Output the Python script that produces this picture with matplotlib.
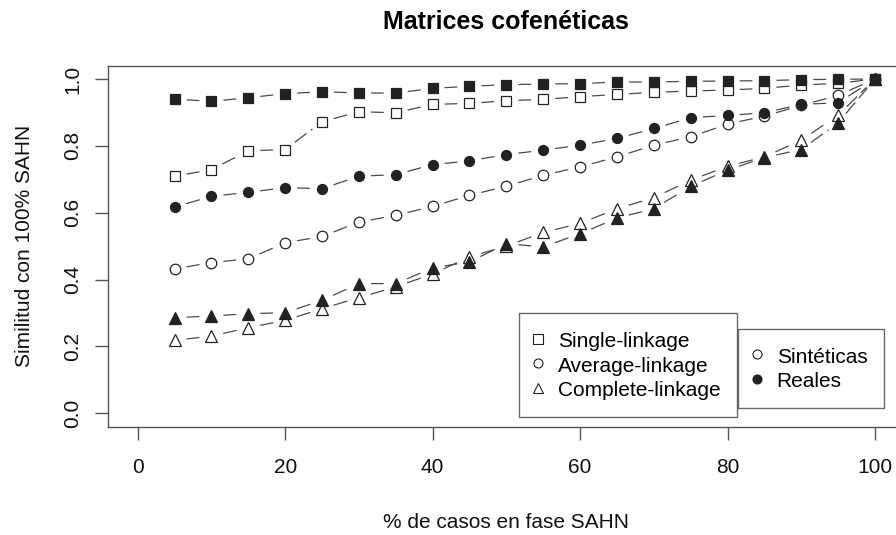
import matplotlib
matplotlib.use("Agg")
import matplotlib.pyplot as plt
from matplotlib.lines import Line2D

plt.rcParams['font.family'] = ['Liberation Sans', 'DejaVu Sans']

pct = [5, 10, 15, 20, 25, 30, 35, 40, 45, 50, 55, 60, 65, 70, 75, 80, 85, 90, 95, 100]

single_sint = [0.709, 0.729, 0.785, 0.789, 0.872, 0.902, 0.899, 0.924, 0.927, 0.935,
               0.939, 0.947, 0.954, 0.960, 0.964, 0.967, 0.972, 0.982, 0.987, 1.0]
single_real = [0.940, 0.933, 0.944, 0.956, 0.962, 0.958, 0.958, 0.972, 0.978, 0.983,
               0.985, 0.986, 0.991, 0.991, 0.993, 0.994, 0.995, 0.998, 0.999, 1.0]
average_sint = [0.432, 0.451, 0.462, 0.510, 0.529, 0.572, 0.592, 0.619, 0.652, 0.679,
                0.712, 0.737, 0.767, 0.802, 0.827, 0.865, 0.889, 0.921, 0.951, 1.0]
average_real = [0.617, 0.649, 0.661, 0.675, 0.672, 0.709, 0.714, 0.744, 0.755, 0.774,
                0.787, 0.802, 0.822, 0.852, 0.884, 0.891, 0.899, 0.924, 0.929, 1.0]
complete_sint = [0.218, 0.231, 0.256, 0.278, 0.313, 0.346, 0.378, 0.417, 0.468, 0.500,
                 0.541, 0.568, 0.612, 0.645, 0.697, 0.739, 0.767, 0.817, 0.892, 1.0]
complete_real = [0.286, 0.291, 0.298, 0.301, 0.338, 0.388, 0.388, 0.435, 0.453, 0.507,
                 0.498, 0.537, 0.584, 0.612, 0.679, 0.727, 0.765, 0.789, 0.869, 1.0]

title = "Matrices cofenéticas"
xlabel = "% de casos en fase SAHN"
ylabel = "Similitud con 100% SAHN"
legend_method = ["Single-linkage", "Average-linkage", "Complete-linkage"]
legend_data = ["Sintéticas", "Reales"]

fig = plt.figure(figsize=(8.96, 5.35), dpi=100)
ax = fig.add_axes([108.2 / 896, (535 - 426.7) / 535, 796.3 / 896, 361.1 / 535])
ax.set_xlim(-4, 104)
ax.set_ylim(-0.04, 1.04)

LINE_C = '#4a4a4a'
EDGE_C = '#222222'


def draw_series(y, marker, filled, ms):
    for i in range(len(pct) - 1):
        ax.annotate("", xy=(pct[i + 1], y[i + 1]), xytext=(pct[i], y[i]),
                    arrowprops=dict(arrowstyle='-', shrinkA=9, shrinkB=9,
                                    color=LINE_C, lw=0.9,
                                    linestyle=(0, (11, 5))),
                    zorder=2)
    ax.plot(pct, y, linestyle='none', marker=marker, ms=ms,
            mfc=(EDGE_C if filled else 'none'), mec=EDGE_C,
            mew=0.9, zorder=3)


draw_series(single_sint, 's', False, 7.2)
draw_series(single_real, 's', True, 7.0)
draw_series(average_sint, 'o', False, 7.6)
draw_series(average_real, 'o', True, 7.2)
draw_series(complete_sint, '^', False, 8.6)
draw_series(complete_real, '^', True, 8.6)

for s in ax.spines.values():
    s.set_color('#555555')
    s.set_linewidth(1.0)

ax.set_xticks([0, 20, 40, 60, 80, 100])
ax.set_yticks([0.0, 0.2, 0.4, 0.6, 0.8, 1.0])
ax.set_yticklabels(["0.0", "0.2", "0.4", "0.6", "0.8", "1.0"], rotation=90, va='center')
ax.tick_params(axis='both', direction='out', length=9.5, width=1.0, color='#555555',
               labelsize=15, labelcolor='#111111')
ax.tick_params(axis='x', pad=13.3)
ax.tick_params(axis='y', pad=9)

ax.set_title(title, fontsize=18, fontweight='bold', pad=26)
ax.set_xlabel(xlabel, fontsize=15, labelpad=26, color='#111111')
ax.set_ylabel(ylabel, fontsize=15, labelpad=21, color='#111111')

h1 = [Line2D([], [], linestyle='none', marker='s', ms=6.5, mfc='none', mec=EDGE_C, mew=0.8),
      Line2D([], [], linestyle='none', marker='o', ms=6.5, mfc='none', mec=EDGE_C, mew=0.8),
      Line2D([], [], linestyle='none', marker='^', ms=7, mfc='none', mec=EDGE_C, mew=0.8)]
h2 = [Line2D([], [], linestyle='none', marker='o', ms=6.5, mfc='none', mec=EDGE_C, mew=0.8),
      Line2D([], [], linestyle='none', marker='o', ms=6.5, mfc=EDGE_C, mec=EDGE_C, mew=0.8)]

common = dict(fontsize=15, frameon=True, fancybox=False, edgecolor='#444444',
              borderpad=0.8, handlelength=0.22, handleheight=1.15,
              handletextpad=0.85, labelspacing=0.15, borderaxespad=0)
leg1 = ax.legend(h1, legend_method, loc='lower right', bbox_to_anchor=(0.7897, 0.0269),
                 **common)
leg1.get_frame().set_linewidth(1.0)
ax.add_artist(leg1)
leg2 = ax.legend(h2, legend_data, loc='lower right', bbox_to_anchor=(0.9743, 0.0518),
                 **common)
leg2.get_frame().set_linewidth(1.0)

fig.savefig("out.png", dpi=100)
